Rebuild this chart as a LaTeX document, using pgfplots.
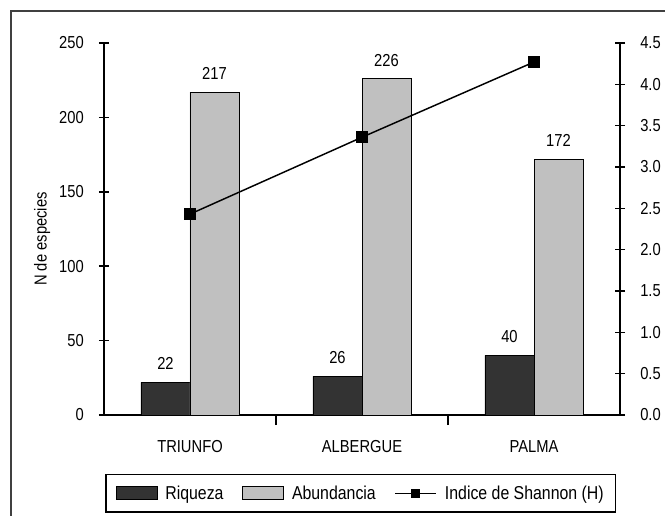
\documentclass[border=0pt]{standalone}
\usepackage{pgfplots}
\pgfplotsset{compat=1.18}
\usepackage{fontspec}
\setmainfont{Liberation Sans}[FakeStretch=0.85]

\definecolor{riq}{HTML}{333333}
\definecolor{abu}{HTML}{C0C0C0}
\definecolor{marco}{HTML}{404040}

\pgfplotsset{
  /pgf/number format/assume math mode=true,
  comun/.style={
    at={(O)}, anchor=south west,
    scale only axis, width=387pt, height=279pt,
    xmin=-0.5, xmax=2.5,
    clip=false,
    axis line style={-, black, line width=1.1pt},
    tick align=center,
    major tick length=7.5pt,
    tick style={black, line width=1.1pt},
  },
  cuadro/.style={legend image code/.code={%
    \draw[##1] (0pt,-4.9pt) rectangle (30.75pt,4.9pt);}},
  linea/.style={legend image code/.code={%
    \draw[##1, mark=none] (0pt,0pt) -- (30.75pt,0pt);
    \draw[##1] plot[only marks] coordinates {(15.4pt,0pt)};}},
}

\begin{document}
\begin{tikzpicture}[font=\fontsize{13}{15}\selectfont]
\begin{scope}[x=0.75pt,y=0.75pt]
  \useasboundingbox (0,0) rectangle (665,515);
  \draw[marco, line width=1.5pt] (11,-20) -- (11,504) -- (700,504);
  \coordinate (O) at (104,100);
\end{scope}

% Riqueza y abundancia (eje izquierdo)
\begin{axis}[comun,
  ymin=0, ymax=250, ytick={0,50,...,250},
  axis x line*=bottom, axis y line*=left,
  xtick={0.5,1.5}, xticklabels={},
  extra x ticks={0,1,2},
  extra x tick labels={TRIUNFO,ALBERGUE,PALMA},
  extra x tick style={major tick length=0pt, grid=none,
    tick label style={anchor=base, inner sep=0pt, yshift=-27.75pt}},
  yticklabel style={anchor=east, inner sep=0pt, xshift=-11.25pt},
  ylabel={N de especies},
  ylabel style={at={(axis description cs:-0.120,0.473)}, anchor=center},
  ybar, bar width=0.285,
  nodes near coords,
  every node near coord/.append style={anchor=base, yshift=9.4pt, inner sep=0pt, black},
  legend columns=3,
  legend style={at={(0.498,-0.158)}, anchor=north, draw=black, line width=1.1pt,
    font=\fontsize{14}{16}\selectfont,
    inner xsep=7pt, inner ysep=6.3pt,
    /tikz/every odd column/.append style={column sep=4pt},
    /tikz/every even column/.append style={column sep=12pt}},
]
\addplot[fill=riq, draw=black, line width=0.6pt, bar shift=-0.1425, cuadro]
  coordinates {(0,22) (1,26) (2,40)};
\addplot[fill=abu, draw=black, line width=0.6pt, bar shift=0.1425, cuadro]
  coordinates {(0,217) (1,226) (2,172)};
\addlegendimage{sharp plot, black, line width=1.1pt, mark=square*, mark size=3pt, linea}
\legend{Riqueza, Abundancia, Indice de Shannon (H)}
\end{axis}

% Indice de Shannon (eje derecho)
\begin{axis}[comun,
  ymin=0, ymax=4.5, ytick={0,0.5,...,4.5},
  axis y line*=right, axis x line=none,
  yticklabel style={anchor=west, inner sep=0pt, xshift=11.25pt,
    /pgf/number format/.cd, fixed, fixed zerofill, precision=1},
]
\addplot[black, line width=1.1pt, mark=square*, mark size=4pt,
  mark options={solid, fill=black}]
  coordinates {(0,2.43) (1,3.36) (2,4.27)};
\end{axis}
\end{tikzpicture}
\end{document}
